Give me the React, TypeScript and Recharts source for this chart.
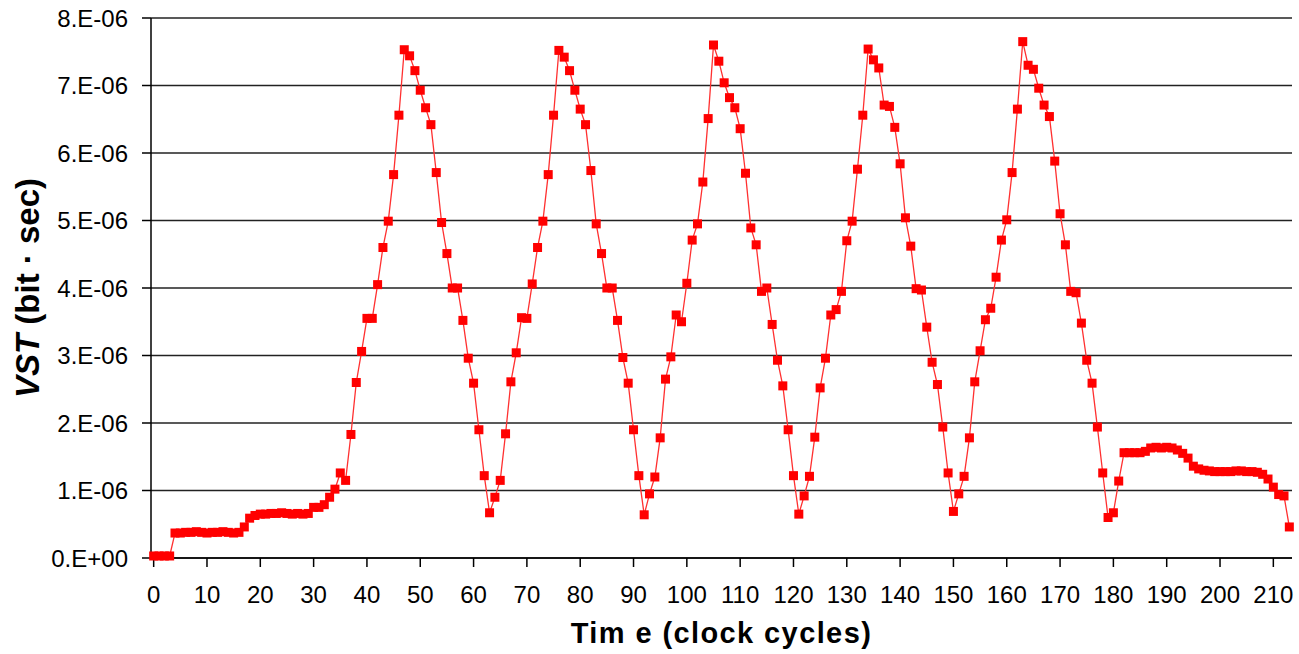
import { CartesianGrid, Label, Line, LineChart, XAxis, YAxis } from "recharts";

// VST values in units of 1e-6 bit·sec, one per clock cycle
const startupVst = [
  0.03, 0.03, 0.03, 0.03, 0.37, 0.37, 0.38, 0.38, 0.39, 0.38, 0.37, 0.38, 0.38, 0.39, 0.38, 0.37, 0.38,
  0.46, 0.59, 0.63, 0.65, 0.65, 0.66, 0.66, 0.67, 0.66, 0.65, 0.66, 0.65, 0.66,
  0.75, 0.75, 0.79, 0.9, 1.02, 1.26, 1.15, 1.83, 2.6, 3.06, 3.55, 3.55, 4.05,
];
const cycle1Vst = [
  4.6, 4.99, 5.68, 6.56, 7.53, 7.44, 7.22, 6.93, 6.67, 6.42, 5.71, 4.97, 4.51, 4.0, 4.0,
  3.52, 2.96, 2.59, 1.9, 1.22, 0.67, 0.9, 1.15, 1.84, 2.61, 3.04, 3.56, 3.55, 4.06,
];
const cycle2Vst = [
  4.6, 4.99, 5.68, 6.56, 7.52, 7.42, 7.22, 6.93, 6.65, 6.42, 5.74, 4.95, 4.51, 4.0, 4.0,
  3.52, 2.97, 2.59, 1.9, 1.22, 0.64, 0.95, 1.2, 1.78, 2.65, 2.98, 3.6, 3.5, 4.07,
];
const cycle3Vst = [
  4.71, 4.95, 5.57, 6.51, 7.6, 7.36, 7.04, 6.82, 6.67, 6.36, 5.7, 4.89, 4.64, 3.95, 4.0,
  3.46, 2.93, 2.55, 1.9, 1.22, 0.65, 0.92, 1.21, 1.79, 2.52, 2.96, 3.6, 3.68, 3.95,
];
const cycle4Vst = [
  4.7, 4.99, 5.76, 6.56, 7.54, 7.38, 7.26, 6.71, 6.69, 6.38, 5.84, 5.04, 4.62, 3.99, 3.97,
  3.42, 2.9, 2.57, 1.94, 1.26, 0.69, 0.95, 1.21, 1.78, 2.61, 3.07, 3.53, 3.7, 4.16,
];
const cycle5Vst = [
  4.71, 5.01, 5.71, 6.65, 7.65, 7.3, 7.24, 6.96, 6.71, 6.54, 5.88, 5.1, 4.64, 3.95, 3.93,
  3.48, 2.93, 2.59, 1.94, 1.26, 0.6, 0.67, 1.14,
];
const tailVst = [
  1.56, 1.56, 1.56, 1.56, 1.58, 1.63, 1.64, 1.63, 1.64, 1.63, 1.6, 1.55, 1.48, 1.36, 1.32, 1.3,
  1.29, 1.28, 1.28, 1.28, 1.28, 1.29, 1.29, 1.28, 1.28, 1.27, 1.24, 1.17, 1.05, 0.94, 0.92, 0.46,
];

const xTicks = [0, 10, 20, 30, 40, 50, 60, 70, 80, 90, 100, 110, 120, 130, 140, 150, 160, 170, 180, 190, 200, 210];
const yTicks = [0, 1e-6, 2e-6, 3e-6, 4e-6, 5e-6, 6e-6, 7e-6, 8e-6];

const data = [...startupVst, ...cycle1Vst, ...cycle2Vst, ...cycle3Vst, ...cycle4Vst, ...cycle5Vst, ...tailVst].map(
  (v, i) => ({ cycle: i, vst: v * 1e-6 })
);

const FONT = "'Liberation Sans', Arial, sans-serif";

const fmtY = (v: number) => (v === 0 ? "0.E+00" : `${Math.round(v * 1e6)}.E-06`);

function SquareDot(props: any) {
  const { cx, cy, index } = props;
  if (cx == null || cy == null) return <g key={`d-${index}`} />;
  return <rect key={`d-${index}`} x={cx - 4.5} y={cy - 4.5} width={9} height={9} fill="#ff0000" />;
}

function YTitle(props: any) {
  const vb = props.viewBox || { x: 0, y: 18, width: 151, height: 540 };
  const cx = vb.x + 27;
  const cy = vb.y + vb.height / 2;
  return (
    <text
      x={cx}
      y={cy}
      transform={`rotate(-90, ${cx}, ${cy})`}
      textAnchor="middle"
      dominantBaseline="central"
      fontFamily={FONT}
      fontWeight="bold"
      fontSize={33}
      fill="#000"
    >
      <tspan fontStyle="italic">VST</tspan> (bit · sec)
    </text>
  );
}

export default function App() {
  return (
    <div style={{ position: "absolute", left: 0, top: 0, background: "#fff" }}>
      <LineChart width={1299} height={654} data={data} margin={{ top: 18, right: 7, bottom: 0, left: 0 }}>
        <CartesianGrid horizontal vertical={false} stroke="#222" strokeWidth={1.5} yAxisId="left" />
        <XAxis
          dataKey="cycle"
          type="number"
          domain={[-0.5, 213.5]}
          ticks={xTicks}
          interval={0}
          height={96}
          tickSize={9}
          tickMargin={19}
          axisLine={{ stroke: "#000", strokeWidth: 1.5 }}
          tickLine={{ stroke: "#000", strokeWidth: 1.5 }}
          tick={{ fill: "#000", fontSize: 24, fontFamily: FONT }}
        >
          <Label
            value="Tim e (clock cycles)"
            position="insideBottom"
            offset={11}
            style={{ fontSize: 29, fontWeight: "bold", fontFamily: FONT, fill: "#000", letterSpacing: 1.4 }}
          />
        </XAxis>
        <YAxis
          yAxisId="left"
          domain={[0, 8e-6]}
          ticks={yTicks}
          interval={0}
          width={151}
          tickSize={9}
          tickMargin={14}
          tickFormatter={fmtY}
          axisLine={{ stroke: "#000", strokeWidth: 1.5 }}
          tickLine={{ stroke: "#000", strokeWidth: 1.5 }}
          tick={{ fill: "#000", fontSize: 24, fontFamily: FONT }}
        >
          <Label content={YTitle} />
        </YAxis>
        <YAxis
          yAxisId="right"
          orientation="right"
          domain={[0, 8e-6]}
          width={0}
          tick={false}
          tickLine={false}
          axisLine={{ stroke: "#a6a6a6", strokeWidth: 2 }}
        />
        <Line
          yAxisId="left"
          dataKey="vst"
          type="linear"
          stroke="#ff3030"
          strokeWidth={1.3}
          dot={SquareDot}
          activeDot={false}
          isAnimationActive={false}
        />
      </LineChart>
    </div>
  );
}
